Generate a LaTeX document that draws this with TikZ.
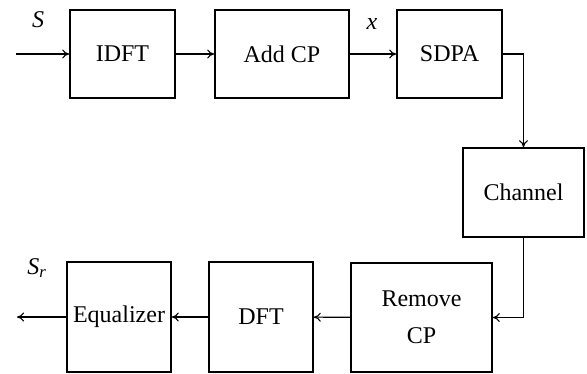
\documentclass[tikz,border=0pt]{standalone}
\usepackage{fontspec}
\setmainfont{Liberation Serif}
\usetikzlibrary{arrows.meta}

\tikzset{
  blk/.style={draw, line width=1.6pt, align=center, inner sep=0pt},
  sig/.style={->, line width=1.1pt},
  >={To[length=7pt,width=9pt]}
}

\begin{document}
\begin{tikzpicture}[x=1pt,y=-1pt,font=\fontsize{24}{37}\selectfont]
  \useasboundingbox (0,0) rectangle (587,373);
  % transmitter
  \node[blk,minimum width=105pt,minimum height=88pt] (idft) at (122.5,54) {IDFT};
  \node[blk,minimum width=134pt,minimum height=88pt] (addcp) at (282,54) {Add CP};
  \node[blk,minimum width=105pt,minimum height=88pt] (sdpa) at (449.5,54) {SDPA};
  \node[blk,minimum width=121pt,minimum height=89pt] (channel) at (523.5,192.5) {Channel};
  % receiver
  \node[blk,minimum width=141pt,minimum height=109pt] (rmcp) at (421.5,317.5)
    {Remove\\CP};
  \node[blk,minimum width=104pt,minimum height=110pt] (dft) at (261,317) {DFT};
  \node[blk,minimum width=104pt,minimum height=110pt] (eq) at (119,317) {Equalizer};
  \coordinate (in) at (16,54);
  \coordinate (out) at (17,317);
  \node (lbls) at (38,20) {\itshape S};
  \node (lblx) at (372,24) {\itshape x};
  \node (lblsr) at (37,268) {\itshape S\textsubscript{r}};
  \draw[sig] (in) -- (idft);
  \draw[sig] (idft) -- (addcp);
  \draw[sig] (addcp) -- (sdpa);
  \draw[sig] (sdpa.east) -| (channel.north);
  \draw[sig] (channel.south) |- (rmcp.east);
  \draw[sig] (rmcp) -- (dft);
  \draw[sig] (dft) -- (eq);
  \draw[sig] (eq) -- (out);
\end{tikzpicture}
\end{document}
